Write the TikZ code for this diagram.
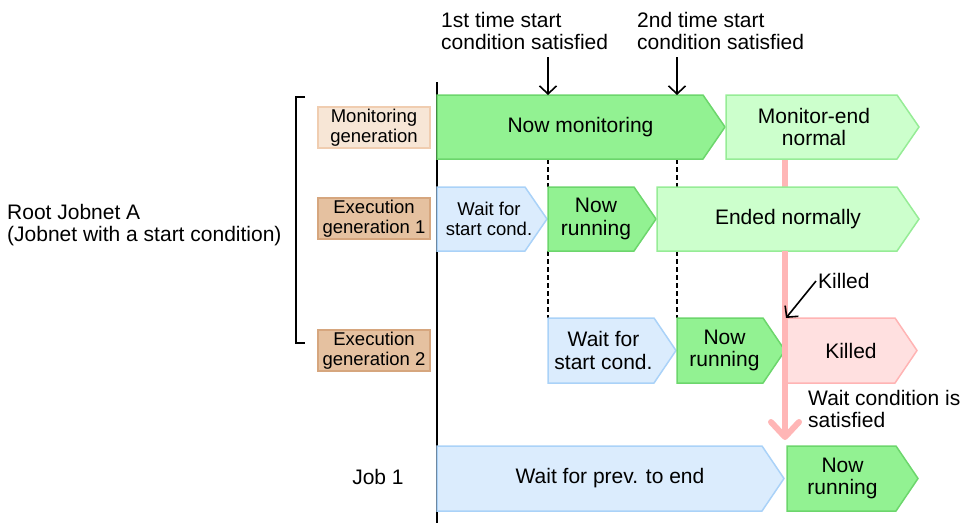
\documentclass[tikz,border=0pt]{standalone}
\usepackage{fontspec}
\setmainfont{Liberation Sans}
\usetikzlibrary{arrows.meta}
\definecolor{bgreen}{RGB}{146,242,146}
\definecolor{bgreenb}{RGB}{108,214,108}
\definecolor{pgreen}{RGB}{204,255,204}
\definecolor{pgreenb}{RGB}{150,236,150}
\definecolor{pblue}{RGB}{219,236,253}
\definecolor{pblueb}{RGB}{170,210,248}
\definecolor{ppink}{RGB}{255,224,224}
\definecolor{ppinkb}{RGB}{255,180,180}
\definecolor{pline}{RGB}{255,182,182}
\definecolor{lpeach}{RGB}{247,230,214}
\definecolor{lpeachb}{RGB}{240,205,176}
\definecolor{dpeach}{RGB}{229,193,160}
\definecolor{dpeachb}{RGB}{214,166,126}
% #1 name, #2 style, #3 x0, #4 tip x, #5 top, #6 bottom, #7 text x, #8 text
\newcommand{\chevbox}[8]{%
  \path[#2] (#3,#5) -- ({#4-22},#5) -- (#4,{(#5+#6)/2}) -- ({#4-22},#6) -- (#3,#6) -- cycle;
  \node[txt] (#1) at (#7,{(#5+#6)/2}) {#8};
}
\begin{document}
\begin{tikzpicture}[x=1pt,y=-1pt,
  txt/.style={font=\fontsize{21}{22.5}\selectfont, align=center, inner sep=0pt},
  stxt/.style={font=\fontsize{18.5}{20.5}\selectfont, align=center, inner sep=0pt},
  sgreen/.style={fill=bgreen, draw=bgreenb, line width=1.5pt},
  spale/.style={fill=pgreen, draw=pgreenb, line width=1.5pt},
  sblue/.style={fill=pblue, draw=pblueb, line width=1.5pt},
  spink/.style={fill=ppink, draw=ppinkb, line width=1.5pt},
  lbllight/.style={stxt, fill=lpeach, draw=lpeachb, line width=1.5pt, minimum width=112pt, minimum height=41pt},
  lbldark/.style={stxt, fill=dpeach, draw=dpeachb, line width=1.5pt, minimum width=112pt, minimum height=41pt},
  blk/.style={draw=black, line width=1.6pt},
  dsh/.style={draw=black, line width=1.6pt, dash pattern=on 5pt off 3pt},
  barb/.style={-{Straight Barb[length=8pt,width=17pt,line width=1.6pt]}},
]
\useasboundingbox (0,0) rectangle (962,523);

% pink flow line (behind boxes)
\coordinate (pl0) at (785,159);
\coordinate (pl1) at (785,251);
\coordinate (pl2) at (785,437);
\draw[pline, line width=6pt] (pl0) -- (pl1);

% left texts
\node[txt, align=left, anchor=west] (root) at (7,225) {Root Jobnet A\\(Jobnet with a start condition)};
\node[txt] (job1) at (378,477) {Job 1};

% bracket
\coordinate (bk0) at (305,97);
\coordinate (bk1) at (296,97);
\coordinate (bk2) at (296,343);
\coordinate (bk3) at (305,343);
\draw[blk] (bk0) -- (bk1) -- (bk2) -- (bk3);

% generation labels
\node[lbllight] (mong) at (374,127.5) {Monitoring\\generation};
\node[lbldark] (ex1) at (374,218.5) {Execution\\generation 1};
\node[lbldark] (ex2) at (374,350.5) {Execution\\generation 2};

% timeline axis
\coordinate (ax0) at (437,82);
\coordinate (ax1) at (437,523);
\draw[blk, line width=1.8pt] (ax0) -- (ax1);

% dashed guide lines
\coordinate (d1a) at (548,159); \coordinate (d1b) at (548,187);
\coordinate (d1c) at (548,251); \coordinate (d1d) at (548,318);
\coordinate (d2a) at (677,159); \coordinate (d2b) at (677,187);
\coordinate (d2c) at (677,251); \coordinate (d2d) at (677,318);
\draw[dsh] (d1a) -- (d1b); \draw[dsh] (d1c) -- (d1d);
\draw[dsh] (d2a) -- (d2b); \draw[dsh] (d2c) -- (d2d);

% monitoring row
\chevbox{nowmon}{sgreen}{437}{725}{95}{159}{580.5}{Now monitoring}
\chevbox{monend}{spale}{726}{919}{95}{159}{814}{Monitor-end\\normal}

% execution generation 1
\chevbox{wait1}{sblue}{437}{547}{187}{251}{489}{}
\node[stxt] (wait1t) at (489,219) {Wait for\\start cond.};
\chevbox{run1}{sgreen}{548}{656}{187}{251}{596}{Now\\running}
\chevbox{ended}{spale}{657}{919}{187}{251}{788}{Ended normally}

% execution generation 2
\chevbox{wait2}{sblue}{548}{676}{318}{383}{603.5}{Wait for\\start cond.}
\chevbox{run2}{sgreen}{677}{785}{318}{383}{724.5}{Now\\running}
\chevbox{killed}{spink}{785}{917}{318}{383}{851}{Killed}

% job 1
\chevbox{waitprev}{sblue}{437}{784}{446}{511}{610}{Wait for prev. to end}
\chevbox{run3}{sgreen}{787}{918}{446}{511}{842.5}{Now\\running}

% pink flow line (in front)
\draw[pline, line width=6pt] (pl1) -- (pl2);
\coordinate (ph0) at (771,422);
\coordinate (ph1) at (799,422);
\draw[pline, line width=6pt, line cap=round, line join=round] (ph0) -- (pl2) -- (ph1);

% top annotations
\node[txt, align=left, anchor=north west] (first) at (441,12) {1st time start\\condition satisfied};
\node[txt, align=left, anchor=north west] (second) at (637,12) {2nd time start\\condition satisfied};
\coordinate (a1s) at (548,57); \coordinate (a1e) at (548,95);
\coordinate (a2s) at (677,57); \coordinate (a2e) at (677,95);
\draw[blk, barb] (a1s) -- (a1e);
\draw[blk, barb] (a2s) -- (a2e);

% killed annotation
\node[txt, anchor=west] (killtxt) at (818,281) {Killed};
\coordinate (k0) at (816,281);
\coordinate (k1) at (786,318);
\draw[blk, barb] (k0) -- (k1);

% wait condition text
\node[txt, align=left, anchor=north west] (waitc) at (808,390) {Wait condition is\\satisfied};
\end{tikzpicture}
\end{document}
